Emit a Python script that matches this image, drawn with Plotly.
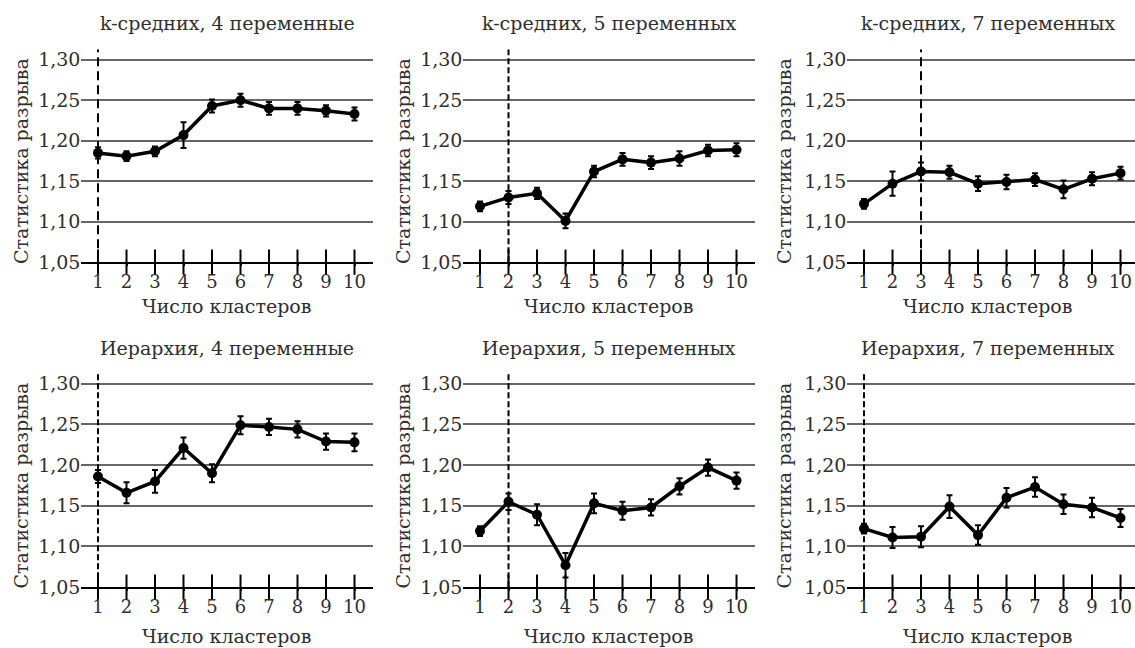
import plotly.graph_objects as go

# ---- data -------------------------------------------------------------
clusters = list(range(1, 11))

panel_titles = [
    "k-средних, 4 переменные",
    "k-средних, 5 переменных",
    "k-средних, 7 переменных",
    "Иерархия, 4 переменные",
    "Иерархия, 5 переменных",
    "Иерархия, 7 переменных",
]

gap_km4 = [1.185, 1.181, 1.187, 1.207, 1.243, 1.250, 1.240, 1.240, 1.237, 1.233]
err_km4 = [0.007, 0.006, 0.006, 0.016, 0.008, 0.008, 0.008, 0.008, 0.007, 0.008]

gap_km5 = [1.119, 1.130, 1.135, 1.101, 1.162, 1.177, 1.173, 1.178, 1.188, 1.189]
err_km5 = [0.006, 0.008, 0.007, 0.009, 0.007, 0.008, 0.008, 0.009, 0.007, 0.008]

gap_km7 = [1.122, 1.147, 1.162, 1.161, 1.147, 1.149, 1.152, 1.140, 1.153, 1.160]
err_km7 = [0.006, 0.015, 0.011, 0.008, 0.009, 0.009, 0.008, 0.011, 0.008, 0.008]

gap_h4 = [1.186, 1.166, 1.180, 1.221, 1.190, 1.249, 1.247, 1.244, 1.229, 1.228]
err_h4 = [0.008, 0.013, 0.014, 0.013, 0.011, 0.011, 0.010, 0.010, 0.010, 0.011]

gap_h5 = [1.119, 1.155, 1.139, 1.077, 1.153, 1.144, 1.148, 1.174, 1.197, 1.181]
err_h5 = [0.006, 0.010, 0.013, 0.015, 0.012, 0.011, 0.010, 0.010, 0.010, 0.010]

gap_h7 = [1.122, 1.111, 1.112, 1.149, 1.114, 1.160, 1.173, 1.152, 1.148, 1.135]
err_h7 = [0.006, 0.013, 0.013, 0.014, 0.012, 0.012, 0.012, 0.012, 0.012, 0.011]

best_k = [1, 2, 3, 1, 2, 1]

y_ticks = [1.05, 1.10, 1.15, 1.20, 1.25, 1.30]
y_floor = 1.05
y_top = 1.313

x_title = "Число кластеров"
y_title = "Статистика разрыва"

series = [
    (gap_km4, err_km4),
    (gap_km5, err_km5),
    (gap_km7, err_km7),
    (gap_h4, err_h4),
    (gap_h5, err_h5),
    (gap_h7, err_h7),
]

# ---- layout geometry -------------------------------------------------
W, H = 1135, 648
H_PLACE = 638                    # vertical pixel scale used for placement
PX_PER_K = 28.5
col_x1 = [98, 480, 864]          # pixel x of cluster 1 in each column
row_y = [(59, 262), (384, 588)]  # pixel y of the 1.30 and 1.05 lines per row
row_title_y = [22, 348]
row_xtitle_y = [306, 637]
col_ytitle_x = [21, 403, 784]
x_lo = 0.42


def fy(px):
    """paper fraction for a pixel row measured from the top"""
    return 1 - px / H_PLACE


FONT = "DejaVu Serif"
TXT = "#2e2e2e"

fig = go.Figure()
layout = dict(
    width=W, height=H, autosize=False,
    margin=dict(l=0, r=0, t=0, b=0, pad=0),
    paper_bgcolor="white", plot_bgcolor="white",
    showlegend=False,
    separators=", ",
    font=dict(family=FONT, color=TXT, size=19),
)
annotations = []

for i, ((gap, err), title, k) in enumerate(zip(series, panel_titles, best_k)):
    r, c = divmod(i, 3)
    n = i + 1
    xa = "x" if n == 1 else f"x{n}"
    ya = "y" if n == 1 else f"y{n}"

    left_px = col_x1[c] - (1 - x_lo) * PX_PER_K
    right_px = min(left_px + (10.65 - x_lo) * PX_PER_K, W)
    x_hi = x_lo + (right_px - left_px) / PX_PER_K

    p130, p105 = row_y[r]
    ppu = (p105 - p130) / (1.30 - 1.05)
    top_px = p130 - (y_top - 1.30) * ppu

    layout[f"xaxis{'' if n == 1 else n}"] = dict(
        domain=[left_px / W, right_px / W],
        range=[x_lo, x_hi],
        anchor=ya,
        tickmode="array", tickvals=clusters, ticktext=[str(v) for v in clusters],
        ticks="outside", ticklen=2, tickwidth=2, tickcolor="black",
        showgrid=False, zeroline=False,
        showline=True, linecolor="black", linewidth=2,
        tickfont=dict(family=FONT, size=18, color=TXT),
    )
    layout[f"yaxis{'' if n == 1 else n}"] = dict(
        domain=[fy(p105), fy(top_px)],
        range=[y_floor, y_top],
        anchor=xa,
        tickmode="array", tickvals=y_ticks,
        tickformat=".2f",
        showgrid=True, gridcolor="#666666", gridwidth=2,
        zeroline=False, showline=False, ticks="",
        tickfont=dict(family=FONT, size=19, color=TXT),
    )

    # chosen number of clusters (dashed vertical)
    fig.add_trace(go.Scatter(
        x=[k, k], y=[y_floor, y_top], xaxis=xa, yaxis=ya,
        mode="lines", hoverinfo="skip",
        line=dict(color="black", width=2,
                  dash="9px,5px" if i in (0, 2) else "6px,3px"),
    ))

    # tick marks crossing the baseline
    fig.add_trace(go.Scatter(
        x=clusters, y=[y_floor] * len(clusters), xaxis=xa, yaxis=ya,
        mode="markers", cliponaxis=False, hoverinfo="skip",
        marker=dict(symbol="line-ns", size=18,
                    line=dict(color="black", width=2)),
    ))

    # gap statistic with error bars
    fig.add_trace(go.Scatter(
        x=clusters, y=gap, xaxis=xa, yaxis=ya,
        mode="lines+markers",
        line=dict(color="black", width=3.5),
        marker=dict(color="black", size=10),
        error_y=dict(type="data", array=err, visible=True,
                     color="black", thickness=2, width=3),
    ))

    cx = (left_px + right_px) / 2 if c < 2 else (left_px + W - 6) / 2

    # panel title
    annotations.append(dict(
        text=title, xref="paper", yref="paper",
        x=cx / W, y=fy(row_title_y[r]),
        xanchor="center", yanchor="middle", showarrow=False,
        font=dict(family=FONT, size=19, color=TXT),
    ))
    # axis titles
    annotations.append(dict(
        text=x_title, xref="paper", yref="paper",
        x=cx / W, y=fy(row_xtitle_y[r]),
        xanchor="center", yanchor="middle", showarrow=False,
        font=dict(family=FONT, size=19, color=TXT),
    ))
    annotations.append(dict(
        text=y_title, xref="paper", yref="paper", textangle=-90,
        x=col_ytitle_x[c] / W, y=fy((p130 + p105) / 2),
        xanchor="center", yanchor="middle", showarrow=False,
        font=dict(family=FONT, size=19, color=TXT),
    ))

layout["annotations"] = annotations
fig.update_layout(**layout)
fig.write_html("out.html", config={"responsive": False})
